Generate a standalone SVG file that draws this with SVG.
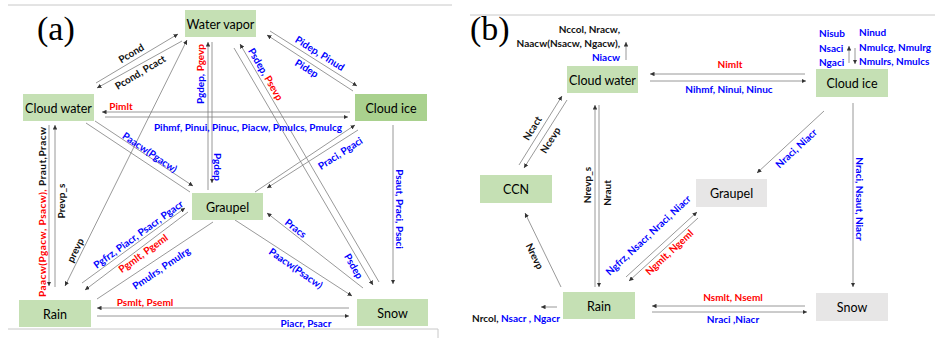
<svg xmlns="http://www.w3.org/2000/svg" width="935" height="338" viewBox="0 0 935 338">
<style>
text{font-family:Lato,"Liberation Sans",sans-serif;dominant-baseline:central}
.n{font-size:12.5px;fill:#000;text-anchor:middle}
.l{font-size:10px;font-weight:bold;text-anchor:middle}
.k{fill:#111}.b{fill:#0000ff}.r{fill:#ff0000}
.g{fill:#c5e0b4}.gd{fill:#a9d18e}.gr{fill:#e7e6e6}
.c line{stroke:#7f7f7f;stroke-width:0.8;fill:none}
.t{font-family:"Liberation Serif",serif;font-size:34px;fill:#000;dominant-baseline:auto}
.frame{stroke:#c8c8c8;stroke-width:1;fill:none}
</style>
<defs>
<marker id="a" viewBox="0 0 6 6" refX="6" refY="3" markerWidth="4.5" markerHeight="4.5" markerUnits="userSpaceOnUse" orient="auto-start-reverse"><path d="M0,0L6,3L0,6z" fill="#333"/></marker>
</defs>
<rect width="935" height="338" fill="#fff"/>
<g id="frames">
<path class="frame" d="M8,5H452M8,329H438V338"/>
<path class="frame" d="M470,15H935" stroke="#eeeeee"/>
</g>
<text class="t" x="37" y="40">(a)</text>
<text class="t" x="470" y="40">(b)</text>

<g class="c" id="connectors-a" marker-end="url(#a)">
<line x1="96" y1="83" x2="178" y2="34"/>
<line x1="182" y1="41" x2="97" y2="88"/>
<line x1="350" y1="112" x2="102" y2="112"/>
<line x1="105" y1="117" x2="348" y2="117"/>
<line x1="270" y1="31" x2="357" y2="86"/>
<line x1="353" y1="91" x2="267" y2="35"/>
<line x1="208" y1="190" x2="208" y2="42"/>
<line x1="212" y1="42" x2="212" y2="183"/>
<line x1="234" y1="48" x2="373" y2="285"/>
<line x1="379" y1="282" x2="240" y2="44"/>
<line x1="187" y1="40" x2="65" y2="286" marker-start="url(#a)"/>
<line x1="49" y1="125" x2="49" y2="286"/>
<line x1="55" y1="287" x2="55" y2="125"/>
<line x1="86" y1="123" x2="190" y2="192" marker-end="none"/>
<line x1="95" y1="121" x2="193" y2="186"/>
<line x1="255" y1="192" x2="355" y2="125"/>
<line x1="358" y1="130" x2="267" y2="188"/>
<line x1="393" y1="125" x2="393" y2="284"/>
<line x1="363" y1="288" x2="267" y2="213"/>
<line x1="235" y1="220" x2="352" y2="296"/>
<line x1="82" y1="283" x2="185" y2="208"/>
<line x1="188" y1="212" x2="85" y2="290"/>
<line x1="213" y1="222" x2="97" y2="299" marker-end="none"/>
<line x1="349" y1="308" x2="97" y2="308"/>
<line x1="97" y1="316" x2="349" y2="316"/>
</g>

<g class="c" id="connectors-b" marker-end="url(#a)">
<line x1="626" y1="60" x2="626" y2="42"/>
<line x1="805" y1="74" x2="650" y2="74"/>
<line x1="650" y1="81" x2="806" y2="81"/>
<line x1="849" y1="63" x2="849" y2="46"/>
<line x1="855" y1="48" x2="855" y2="64"/>
<line x1="519" y1="165" x2="562" y2="96"/>
<line x1="567" y1="100" x2="524" y2="168"/>
<line x1="595" y1="287" x2="595" y2="105"/>
<line x1="599" y1="105" x2="599" y2="287"/>
<line x1="561" y1="287" x2="525" y2="213"/>
<line x1="557" y1="307" x2="541" y2="307"/>
<line x1="626" y1="277" x2="697" y2="212"/>
<line x1="698" y1="218" x2="629" y2="281"/>
<line x1="824" y1="111" x2="757" y2="173"/>
<line x1="853" y1="103" x2="853" y2="287"/>
<line x1="805" y1="306" x2="652" y2="306"/>
<line x1="652" y1="312" x2="807" y2="312"/>
</g>

<g id="labels-a">
<text class="l k" transform="translate(131,53) rotate(-31)">Pcond</text>
<text class="l k" transform="translate(140,72) rotate(-31)">Pcond, Pcact</text>
<text class="l r" x="121" y="106">Pimlt</text>
<text class="l b" x="248" y="127">Pihmf, Pinui, Pinuc, Piacw, Pmulcs, Pmulcg</text>
<text class="l b" transform="translate(320,53) rotate(32)">Pidep, Pinud</text>
<text class="l b" transform="translate(307,68) rotate(32)">Pidep</text>
<text class="l" transform="translate(200,74) rotate(-90)"><tspan class="b">Pgdep, </tspan><tspan class="r">Pgevp</tspan></text>
<text class="l b" transform="translate(218,167) rotate(90)">Pgdep</text>
<text class="l" transform="translate(266,74) rotate(59.6)"><tspan class="b">Psdep, </tspan><tspan class="r">Psevp</tspan></text>
<text class="l b" transform="translate(354,266) rotate(59.6)">Psdep</text>
<text class="l k" transform="translate(75,250) rotate(-63.6)">prevp</text>
<text class="l" style="text-anchor:start" textLength="170" transform="translate(42,297) rotate(-90)"><tspan class="r">Paacw(Pgacw, Psacw), </tspan><tspan class="k">Praut,Pracw</tspan></text>
<text class="l k" transform="translate(61,201) rotate(-90)">Prevp_s</text>
<text class="l b" transform="translate(150,152) rotate(34)">Paacw(Pgacw)</text>
<text class="l b" transform="translate(340,153) rotate(-33)">Praci, Pgaci</text>
<text class="l b" transform="translate(400,209) rotate(90)">Psaut, Praci, Psaci</text>
<text class="l b" transform="translate(296,228) rotate(38)">Pracs</text>
<text class="l b" transform="translate(296,268) rotate(35)">Paacw(Psacw)</text>
<text class="l b" transform="translate(138,234) rotate(-36)">Pgfrz, Piacr, Psacr, Pgacr</text>
<text class="l r" transform="translate(143,253) rotate(-36)">Pgmlt, Pgeml</text>
<text class="l b" transform="translate(161,268) rotate(-34)">Pmulrs, Pmulrg</text>
<text class="l r" x="145" y="302">Psmlt, Pseml</text>
<text class="l b" x="306" y="323">Piacr, Psacr</text>
</g>

<g id="labels-b">
<text class="l k" x="620" y="29" style="text-anchor:end">Nccol, Nracw,</text>
<text class="l k" x="620" y="43" style="text-anchor:end">Naacw(Nsacw, Ngacw),</text>
<text class="l b" x="620" y="57" style="text-anchor:end">Niacw</text>
<text class="l r" x="730" y="64">Nimlt</text>
<text class="l b" x="729" y="89">Nihmf, Ninui, Ninuc</text>
<text class="l b" x="819" y="33" style="text-anchor:start">Nisub</text>
<text class="l b" x="819" y="48" style="text-anchor:start">Nsaci</text>
<text class="l b" x="819" y="62" style="text-anchor:start">Ngaci</text>
<text class="l b" x="859" y="32" style="text-anchor:start">Ninud</text>
<text class="l b" x="859" y="47" style="text-anchor:start">Nmulcg, Nmulrg</text>
<text class="l b" x="859" y="61" style="text-anchor:start">Nmulrs, Nmulcs</text>
<text class="l k" transform="translate(532,128) rotate(-58)">Ncact</text>
<text class="l k" transform="translate(550,140) rotate(-58)">Ncevp</text>
<text class="l k" transform="translate(587,185) rotate(-90)">Nrevp_s</text>
<text class="l k" transform="translate(607,193) rotate(-90)">Nraut</text>
<text class="l k" transform="translate(535,256) rotate(64)">Nrevp</text>
<text class="l" x="516" y="318"><tspan class="k">Nrcol, </tspan><tspan class="b">Nsacr , Ngacr</tspan></text>
<text class="l b" transform="translate(648,235) rotate(-43)">Ngfrz, Nsacr, Nraci, Niacr</text>
<text class="l r" transform="translate(669,252) rotate(-43)">Ngmlt, Ngeml</text>
<text class="l b" transform="translate(796,148) rotate(-43)">Nraci, Niacr</text>
<text class="l b" transform="translate(860,199) rotate(90)">Nraci, Nsaut, Niacr</text>
<text class="l r" x="733" y="297">Nsmlt, Nseml</text>
<text class="l b" x="733" y="319">Nraci ,Niacr</text>
</g>

<g id="a-water-vapor"><rect class="g" x="185" y="10" width="71" height="27"/><text class="n" x="220.5" y="24">Water vapor</text></g>
<g id="a-cloud-water"><rect class="g" x="23" y="94" width="71" height="27"/><text class="n" x="58.5" y="108">Cloud water</text></g>
<g id="a-cloud-ice"><rect class="gd" x="355" y="94" width="72" height="27"/><text class="n" x="391" y="108">Cloud ice</text></g>
<g id="a-graupel"><rect class="g" x="192" y="193" width="71" height="27"/><text class="n" x="227.5" y="207">Graupel</text></g>
<g id="a-rain"><rect class="g" x="19" y="300" width="72" height="27"/><text class="n" x="55" y="314">Rain</text></g>
<g id="a-snow"><rect class="g" x="357" y="299" width="71" height="27"/><text class="n" x="392.5" y="313">Snow</text></g>

<g id="b-cloud-water"><rect class="g" x="567" y="66" width="71" height="27"/><text class="n" x="602.5" y="80">Cloud water</text></g>
<g id="b-cloud-ice"><rect class="g" x="816" y="69" width="72" height="28"/><text class="n" x="852" y="83">Cloud ice</text></g>
<g id="b-ccn"><rect class="g" x="480" y="175" width="72" height="28"/><text class="n" x="516" y="189">CCN</text></g>
<g id="b-graupel"><rect class="gr" x="696" y="179" width="71" height="28"/><text class="n" x="731.5" y="193">Graupel</text></g>
<g id="b-rain"><rect class="g" x="563" y="292" width="72" height="27"/><text class="n" x="599" y="306">Rain</text></g>
<g id="b-snow"><rect class="gr" x="816" y="293" width="72" height="28"/><text class="n" x="852" y="307">Snow</text></g>
</svg>
